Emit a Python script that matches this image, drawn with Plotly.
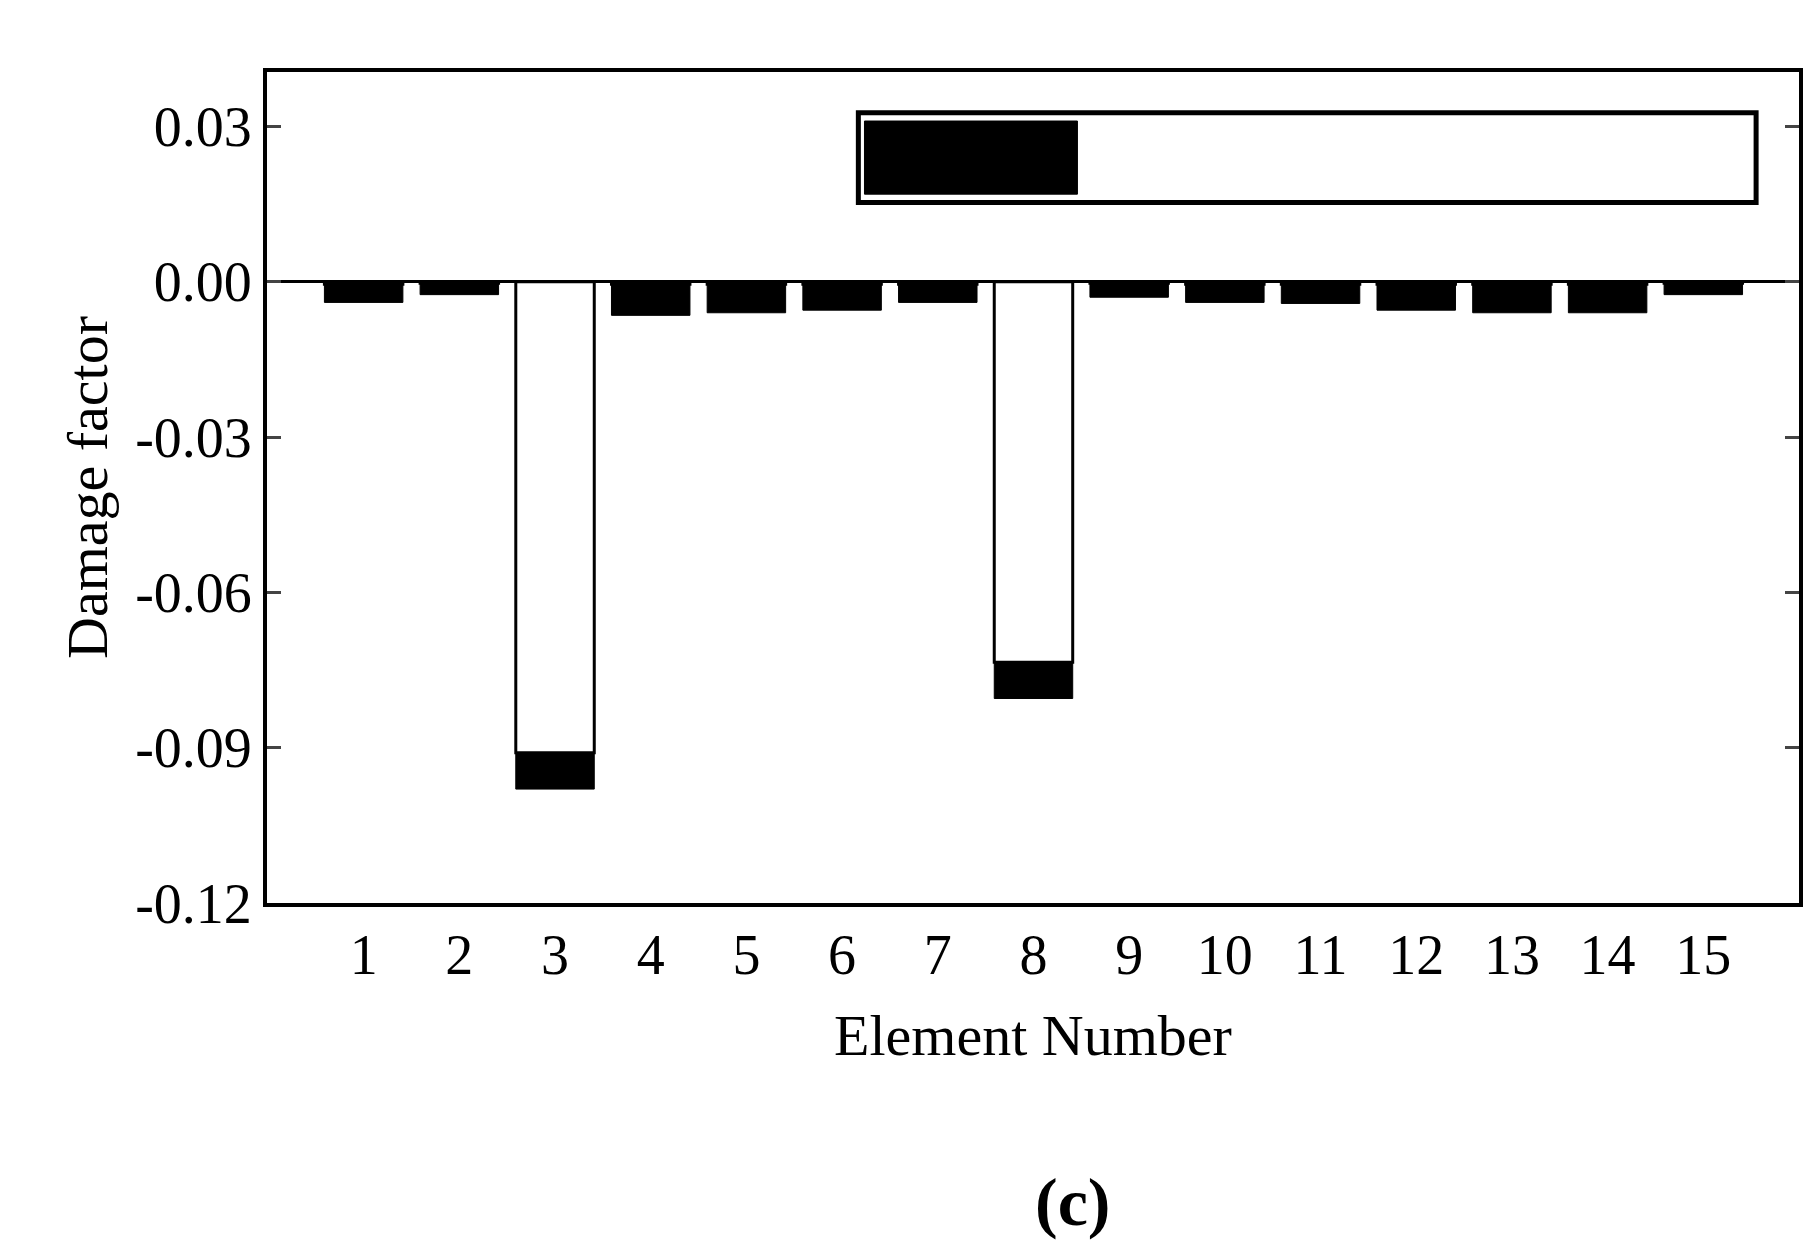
import plotly.graph_objects as go

elements = list(range(1, 16))
mean_vals = [-0.0005, -0.0003, -0.091, -0.0005, -0.0005, -0.0005, -0.0005, -0.0735,
             -0.0003, -0.0005, -0.0005, -0.0005, -0.0005, -0.0005, -0.0003]
ci_lower = [-0.004, -0.0025, -0.098, -0.0065, -0.006, -0.0055, -0.004, -0.0805,
            -0.003, -0.004, -0.0042, -0.0055, -0.006, -0.006, -0.0025]
ci_width = [l - m for l, m in zip(ci_lower, mean_vals)]

font = "Liberation Serif"

fig = go.Figure()
fig.add_trace(go.Bar(x=elements, y=mean_vals, width=0.82, showlegend=False,
                     marker=dict(color="white", line=dict(color="black", width=3))))
fig.add_trace(go.Bar(x=elements, y=ci_width, base=mean_vals, width=0.82, showlegend=False,
                     marker=dict(color="black", line=dict(color="black", width=1))))

# legend drawn by hand to get the wide black patch
fig.add_shape(type="rect", xref="paper", yref="paper", x0=0.386, x1=0.972, y0=0.843, y1=0.951,
              line=dict(color="black", width=5), fillcolor="white")
fig.add_shape(type="rect", xref="paper", yref="paper", x0=0.390, x1=0.529, y0=0.853, y1=0.941,
              line=dict(color="black", width=1), fillcolor="black")
fig.add_annotation(text="95% confidence interval", xref="paper", yref="paper", x=0.538, y=0.897,
                   xanchor="left", yanchor="middle", showarrow=False, font=dict(size=58))

fig.update_layout(
    width=1817, height=1247, barmode="overlay",
    plot_bgcolor="white", paper_bgcolor="white",
    margin=dict(l=259, r=26, t=64, b=352),
    font=dict(family=font, size=56, color="black"),
    xaxis=dict(range=[-0.01, 16.0], tickvals=elements, ticks="", showline=True,
               linecolor="black", linewidth=4, mirror=True, showgrid=False,
               zeroline=False,
               title=dict(text="Element Number", font=dict(size=58), standoff=30)),
    yaxis=dict(range=[-0.12, 0.0405], tickvals=[0.03, 0, -0.03, -0.06, -0.09, -0.12],
               ticktext=["0.03", "0.00", "-0.03", "-0.06", "-0.09", "-0.12"],
               ticks="inside", ticklen=14, tickwidth=3, showline=True,
               linecolor="black", linewidth=4, mirror="ticks", showgrid=False,
               zeroline=True, zerolinecolor="black", zerolinewidth=3,
               title=dict(text="Damage factor", font=dict(size=58), standoff=10)),
    annotations=[dict(text="<b>(c)</b>", x=0.5, y=-0.36, xref="paper", yref="paper",
                      showarrow=False, font=dict(size=68))],
)

fig.write_html("out.html")
